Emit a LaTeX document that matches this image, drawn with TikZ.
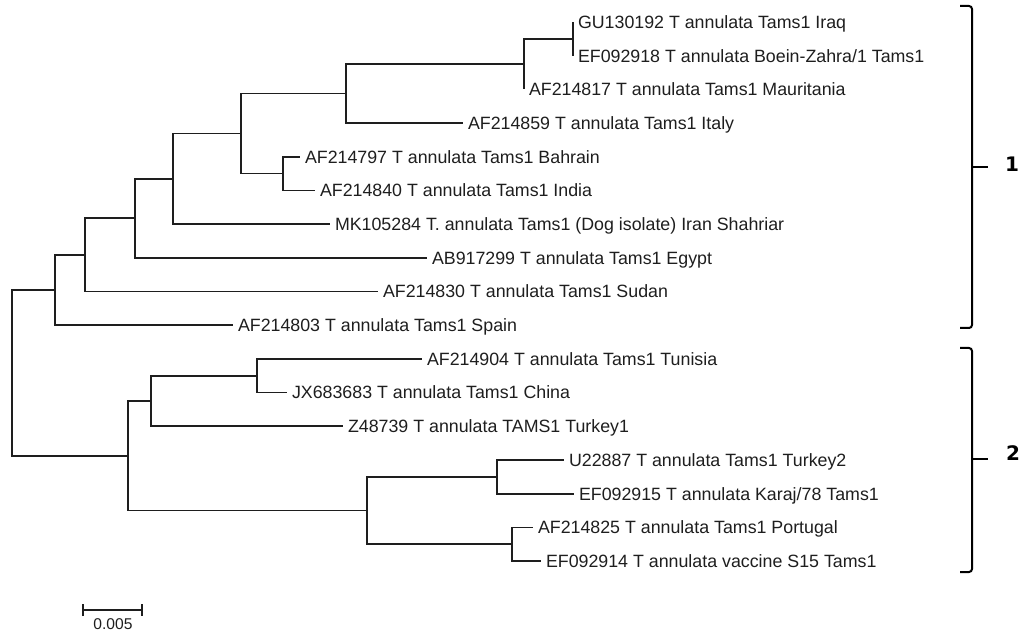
\documentclass[tikz,border=0pt]{standalone}
\usepackage{fontspec}
\setmainfont{Liberation Sans}
\newfontfamily\cladefont{DejaVu Sans}
\usetikzlibrary{arrows.meta}
\definecolor{ink}{RGB}{30,30,30}
\tikzset{
  leaf/.style={anchor=west, inner sep=2.3pt, text height=6.4pt, text depth=0pt,
               font=\fontsize{8.9}{10}\selectfont, text=ink},
  branch/.style={draw=ink, line width=0.8pt},
  clade/.style={draw=black, line width=1pt, rounded corners=1.5pt},
  cladelabel/.style={font={\cladefont\fontsize{10}{12}\selectfont\bfseries}, inner sep=0pt},
}
\begin{document}
\begin{tikzpicture}[x=0.5pt,y=-0.5pt]
  \useasboundingbox (0,0) rectangle (1021,635);
  % Leaves (tip x, row y)
  \node[leaf] (iraq)     at (573,22.0)  {GU130192 T annulata Tams1 Iraq};
  \node[leaf] (boein)    at (573,55.7)  {EF092918 T annulata Boein-Zahra/1 Tams1};
  \node[leaf] (maur)     at (524,89.4)  {AF214817 T annulata Tams1 Mauritania};
  \node[leaf] (italy)    at (463,123.1) {AF214859 T annulata Tams1 Italy};
  \node[leaf] (bahrain)  at (300,156.8) {AF214797 T annulata Tams1 Bahrain};
  \node[leaf] (india)    at (315,190.5) {AF214840 T annulata Tams1 India};
  \node[leaf] (mk)       at (330,224.1) {MK105284 T. annulata Tams1 (Dog isolate) Iran Shahriar};
  \node[leaf] (egypt)    at (427,257.8) {AB917299 T annulata Tams1 Egypt};
  \node[leaf] (sudan)    at (378,291.5) {AF214830 T annulata Tams1 Sudan};
  \node[leaf] (spain)    at (233,325.2) {AF214803 T annulata Tams1 Spain};
  \node[leaf] (tunisia)  at (422,358.9) {AF214904 T annulata Tams1 Tunisia};
  \node[leaf] (china)    at (287,392.6) {JX683683 T annulata Tams1 China};
  \node[leaf] (turkeyA)  at (343,426.3) {Z48739 T annulata TAMS1 Turkey1};
  \node[leaf] (turkeyB)  at (564,460.0) {U22887 T annulata Tams1 Turkey2};
  \node[leaf] (karaj)    at (574,493.7) {EF092915 T annulata Karaj/78 Tams1};
  \node[leaf] (portugal) at (533,527.4) {AF214825 T annulata Tams1 Portugal};
  \node[leaf] (vaccine)  at (541,561.0) {EF092914 T annulata vaccine S15 Tams1};
  % Internal nodes
  \coordinate (nib)  at (573,38.85);
  \coordinate (nibm) at (524,64.1);
  \coordinate (nit)  at (346,93.6);
  \coordinate (nbi)  at (283,173.65);
  \coordinate (na)   at (241,133.6);
  \coordinate (nb)   at (173,178.9);
  \coordinate (nc)   at (135,218.3);
  \coordinate (nd)   at (85,254.9);
  \coordinate (ne)   at (55,290.0);
  \coordinate (ntc)  at (257,375.75);
  \coordinate (ng)   at (151,401.0);
  \coordinate (ntk)  at (497,476.85);
  \coordinate (npv)  at (512,544.2);
  \coordinate (nh)   at (367,510.5);
  \coordinate (nf)   at (128,455.8);
  \coordinate (root) at (12,372.9);
  % Branches (parent |- child)
  \foreach \p/\c in {nib/iraq.west, nib/boein.west, nibm/nib, nibm/maur.west,
                     nit/nibm, nit/italy.west, nbi/bahrain.west, nbi/india.west,
                     na/nit, na/nbi, nb/na, nb/mk.west, nc/nb, nc/egypt.west,
                     nd/nc, nd/sudan.west, ne/nd, ne/spain.west, root/ne, root/nf,
                     ntc/tunisia.west, ntc/china.west, ng/ntc, ng/turkeyA.west,
                     ntk/turkeyB.west, ntk/karaj.west, npv/portugal.west, npv/vaccine.west,
                     nh/ntk, nh/npv, nf/ng, nf/nh}
    \draw[branch] (\p) |- (\c);
  % Scale bar
  \coordinate (sbl) at (82,610);
  \coordinate (sbr) at (143,610);
  \draw[branch, {Bar[width=6pt]}-{Bar[width=6pt]}] (sbl) -- (sbr);
  \node[font=\fontsize{7.8}{9}\selectfont, text=ink, inner sep=0pt] (sblab) at (113,624) {0.005};
  % Clade brackets
  \draw[clade] (960,6) -- (972,6) -- (972,328) -- (960,328);
  \draw[clade] (972,167) -- (988,167);
  \node[cladelabel] (cl1) at (1012,164) {1};
  \draw[clade] (960,348) -- (972,348) -- (972,572) -- (960,572);
  \draw[clade] (972,459) -- (988,459);
  \node[cladelabel] (cl2) at (1013,453) {2};
\end{tikzpicture}
\end{document}
